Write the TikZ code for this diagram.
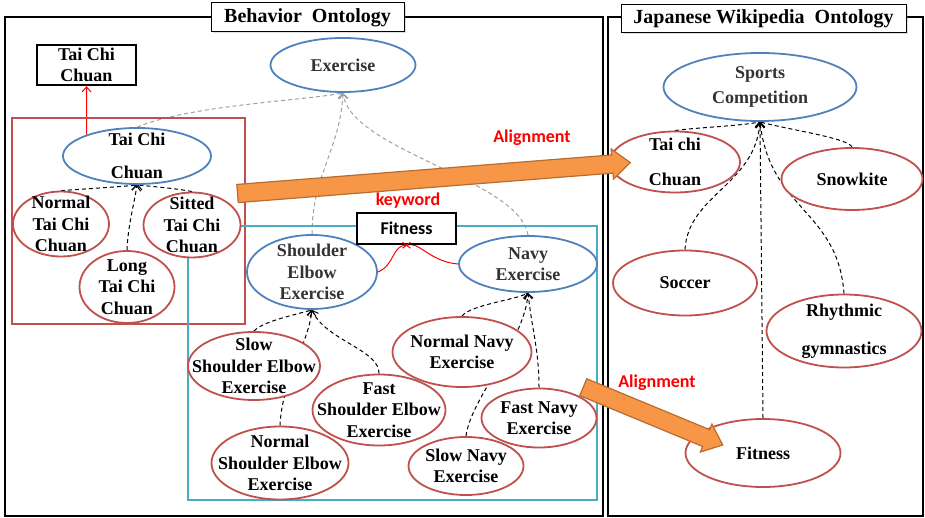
\documentclass[tikz,border=0pt]{standalone}
\usepackage{fontspec}
\setmainfont{Liberation Serif}
\newfontfamily\calibri{Carlito}
\usetikzlibrary{arrows.meta,shapes.geometric,shapes.arrows,backgrounds,shadows}
\definecolor{ontblue}{HTML}{4F81BD}
\definecolor{ontred}{HTML}{C0504D}
\definecolor{ontteal}{HTML}{4BACC6}
\definecolor{ontorange}{HTML}{F79646}
\definecolor{ontorangedk}{HTML}{B66D31}
\tikzset{
boframe/.style={draw,line width=1.3pt},
botitle/.style={rectangle,draw,fill=white,line width=1pt,inner sep=1pt,font=\bfseries\fontsize{20}{22}\selectfont,drop shadow={opacity=0.25,shadow xshift=1.5pt,shadow yshift=-1.5pt}},
bogroup/.style={draw=ontred,line width=2pt},
bofitgroup/.style={draw=ontteal,line width=1.6pt},
boclass/.style={ellipse,draw=ontblue,line width=1.8pt,fill=white,inner sep=-30pt,align=center,text=black!80,font=\bfseries\fontsize{18}{21.5}\selectfont},
boleaf/.style={boclass,draw=ontred,text=black},
botag/.style={rectangle,draw,line width=2.4pt,fill=white,align=center,inner sep=1pt,font=\bfseries\fontsize{18}{21}\selectfont},
bokey/.style={font=\calibri\bfseries\fontsize{18}{21}\selectfont,text=red,inner sep=1pt},
boisa/.style={-{Straight Barb[length=5pt,width=9pt]},dash pattern=on 4pt off 3pt,line width=1pt},
bosuper/.style={boisa,draw=gray!75},
bolink/.style={red,line width=1pt},
boalign/.style={single arrow,draw=ontorangedk,fill=ontorange,line width=1.2pt,inner sep=0pt,inner ysep=8.5pt,single arrow head extend=6pt,single arrow tip angle=80}
}
\begin{document}
\begin{tikzpicture}[x=1pt,y=-1pt]
\useasboundingbox (0,0) rectangle (925,518);
% frames and groups
\draw[boframe] (5,17) rectangle (603,516);
\draw[boframe] (608,17) rectangle (923,516);
\draw[bogroup] (12,118) rectangle (245,324);
\draw[bofitgroup] (188,226) rectangle (597,500);
\node[botitle,minimum width=193pt,minimum height=29pt] (behtitle) at (307.5,17.5) {Behavior\enspace Ontology};
\node[botitle,minimum width=285pt,minimum height=28pt] (wikititle) at (763.5,19) {Japanese Wikipedia\enspace Ontology};
% behavior ontology
\node[botag,minimum width=99pt,minimum height=40pt] (tcctag) at (86.5,65) {Tai Chi\\Chuan};
\node[boclass,text=black,minimum width=148pt,minimum height=56pt] (taicc) at (137,156) {Tai Chi\\[11pt]Chuan};
\node[boleaf,minimum width=96pt,minimum height=65pt] (normaltcc) at (61,224) {Normal\\Tai Chi\\Chuan};
\node[boleaf,minimum width=97pt,minimum height=65pt] (sittedtcc) at (192,225) {Sitted\\Tai Chi\\Chuan};
\node[boleaf,minimum width=95pt,minimum height=72pt] (longtcc) at (127,287) {Long\\Tai Chi\\Chuan};
\node[boclass,minimum width=145pt,minimum height=54pt] (exercise) at (343,65) {Exercise};
\node[boclass,minimum width=130pt,minimum height=74pt] (sea) at (312,272) {Shoulder\\Elbow\\Exercise};
\node[boclass,minimum width=138pt,minimum height=56pt] (navy) at (528,264) {Navy\\Exercise};
\node[botag,font=\calibri\bfseries\fontsize{18}{21}\selectfont,minimum width=99pt,minimum height=31pt] (fitkw) at (406.5,228.5) {Fitness};
\node[bokey] (kwlabel) at (408,201) {keyword};
\node[boleaf,minimum width=132pt,minimum height=68pt] (slowse) at (254,366) {Slow\\Shoulder Elbow\\Exercise};
\node[boleaf,minimum width=133pt,minimum height=71pt] (fastse) at (379,410) {Fast\\Shoulder Elbow\\Exercise};
\node[boleaf,minimum width=137pt,minimum height=73pt] (normalse) at (280,463) {Normal\\Shoulder Elbow\\Exercise};
\node[boleaf,minimum width=139pt,minimum height=70pt] (normalnavy) at (462,352) {Normal Navy\\Exercise};
\node[boleaf,minimum width=115pt,minimum height=59pt] (fastnavy) at (539,418) {Fast Navy\\Exercise};
\node[boleaf,minimum width=115pt,minimum height=58pt] (slownavy) at (466,466) {Slow Navy\\Exercise};
% wikipedia ontology
\node[boclass,minimum width=193pt,minimum height=68pt] (sports) at (760,87) {Sports\\[3pt]Competition};
\node[boleaf,minimum width=130pt,minimum height=61pt] (wtcc) at (675,162) {Tai chi\\[14pt]Chuan};
\node[boleaf,minimum width=141pt,minimum height=62pt] (snowkite) at (852,179) {Snowkite};
\node[boleaf,minimum width=144pt,minimum height=65pt] (soccer) at (685,283) {Soccer};
\node[boleaf,minimum width=155pt,minimum height=73pt] (rhythmic) at (844,331) {Rhythmic\\[16pt]gymnastics};
\node[boleaf,minimum width=155pt,minimum height=68pt] (wfitness) at (763,453) {Fitness};
\coordinate (kwx) at (fitkw.south);
\draw[bolink] (kwx) +(-4,-3) -- +(4,3) (kwx) +(-4,3) -- +(4,-3);
\begin{pgfonlayer}{background}
\draw[bolink,-{Straight Barb[length=5pt,width=9pt]}] (taicc.157) -- (tcctag.south);
\draw[boisa] (normaltcc.north) .. controls (100,188) and (130,186) .. (taicc.south);
\draw[boisa] (sittedtcc.north) .. controls (175,188) and (145,186) .. (taicc.south);
\draw[boisa] (longtcc.north) .. controls (128,225) and (134,205) .. (taicc.south);
\draw[boisa] (slowse.north) .. controls (262,322) and (290,316) .. (sea.south);
\draw[boisa] (fastse.north) .. controls (380,350) and (325,340) .. (sea.south);
\draw[boisa] (normalse.north) .. controls (282,380) and (308,345) .. (sea.south);
\draw[boisa] (normalnavy.north) .. controls (470,305) and (515,300) .. (navy.south);
\draw[boisa] (fastnavy.north) .. controls (539,350) and (532,330) .. (navy.south);
\draw[boisa] (slownavy.north) .. controls (470,400) and (525,340) .. (navy.south);
\draw[bosuper] (taicc.north) .. controls (190,105) and (310,100) .. (exercise.south);
\draw[bosuper] (sea.north) .. controls (312,175) and (340,150) .. (exercise.south);
\draw[bosuper] (navy.north) .. controls (520,180) and (350,150) .. (exercise.south);
\draw[bolink] (sea.east) .. controls (395,265) and (392,245) .. (kwx);
\draw[bolink] (kwx) .. controls (418,240) and (430,262) .. (navy.west);
\draw[boisa] (wtcc.north) .. controls (690,128) and (740,126) .. (sports.south);
\draw[boisa] (snowkite.north) .. controls (848,138) and (790,130) .. (sports.south);
\draw[boisa] (soccer.north) .. controls (688,195) and (755,185) .. (sports.south);
\draw[boisa] (rhythmic.north) .. controls (838,210) and (770,210) .. (sports.south);
\draw[boisa] (wfitness.north) -- (sports.south);
\end{pgfonlayer}
% alignment arrows
\node[boalign,minimum height=394pt,rotate=4.5] (alignone) at (428.5,178.5) {};
\node[bokey,font=\calibri\bfseries\fontsize{18}{21}\selectfont] (alignonelbl) at (532,138) {Alignment};
\node[boalign,minimum height=151pt,rotate=-22.5] (aligntwo) at (648,414) {};
\node[bokey] (aligntwolbl) at (657,383) {Alignment};
\end{tikzpicture}
\end{document}
